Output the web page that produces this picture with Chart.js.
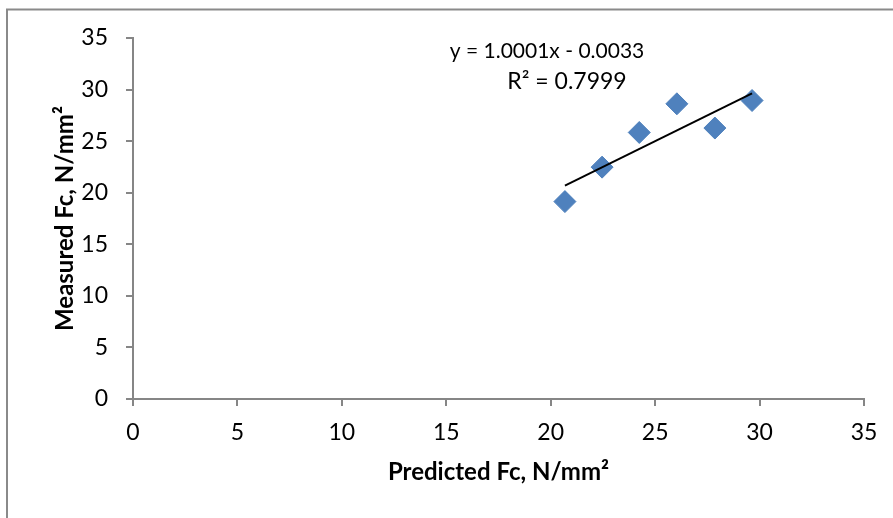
<!DOCTYPE html>
<html>
<head>
<meta charset="utf-8">
<script src="https://cdn.jsdelivr.net/npm/chart.js@4/dist/chart.umd.min.js"></script>
<style>
  html, body { margin: 0; padding: 0; background: #ffffff; }
  #wrap { width: 893px; height: 518px; }
</style>
</head>
<body>
<div id="wrap"><canvas id="c" width="893" height="518"></canvas></div>
<script>
// ---- data ----
const predictedFc = [20.68, 22.46, 24.24, 26.04, 27.86, 29.64];
const measuredFc  = [19.14, 22.48, 25.84, 28.62, 26.27, 28.94];
const trendSlope = [1.0001];
const trendIntercept = [-0.0033];
const trendLabels = ["y = 1.0001x - 0.0033", "R\u00B2 = 0.7999"];
const xTitle = "Predicted Fc, N/mm\u00B2";
const yTitle = "Measured Fc, N/mm\u00B2";
const axisMin = [0];
const axisMax = [35];
const axisStep = [5];

const FONT = "Lato, 'Open Sans', sans-serif";
const AXIS_GREY = '#868686';

const points = predictedFc.map((x, i) => ({ x: x, y: measuredFc[i] }));
const xLo = Math.min(...predictedFc), xHi = Math.max(...predictedFc);
const trend = [
  { x: xLo, y: trendSlope[0] * xLo + trendIntercept[0] },
  { x: xHi, y: trendSlope[0] * xHi + trendIntercept[0] }
];

const frame = {
  id: 'frame',
  beforeDraw(chart) {
    const ctx = chart.ctx;
    ctx.save();
    ctx.fillStyle = '#ffffff';
    ctx.fillRect(0, 0, chart.width, chart.height);
    ctx.strokeStyle = '#8a8a8a';
    ctx.lineWidth = 2;
    ctx.strokeRect(7, 9.5, 1000, 1000);
    ctx.restore();
  },
  afterDraw(chart) {
    const ctx = chart.ctx;
    ctx.save();
    ctx.fillStyle = '#000000';
    ctx.textAlign = 'center';
    ctx.textBaseline = 'middle';
    ctx.font = "21px " + FONT;
    ctx.fillText(trendLabels[0], 547, 51);
    ctx.font = "23px " + FONT;
    ctx.fillText(trendLabels[1], 567, 82);
    ctx.restore();
  }
};

new Chart(document.getElementById('c'), {
  type: 'scatter',
  data: {
    datasets: [
      {
        type: 'line',
        label: 'Linear trend',
        data: trend,
        borderColor: '#000000',
        borderWidth: 2,
        pointRadius: 0,
        fill: false,
        order: 0
      },
      {
        label: 'Measured vs predicted',
        data: points,
        pointStyle: 'rectRot',
        pointRadius: 11,
        pointHoverRadius: 11,
        backgroundColor: '#4F81BD',
        borderColor: '#4F81BD',
        borderWidth: 1,
        order: 1
      }
    ]
  },
  options: {
    responsive: false,
    animation: false,
    devicePixelRatio: 1,
    layout: { padding: { left: 0, right: 29, top: 38, bottom: 0 } },
    plugins: {
      legend: { display: false },
      tooltip: { enabled: false }
    },
    scales: {
      x: {
        type: 'linear',
        min: axisMin[0], max: axisMax[0],
        ticks: {
          stepSize: axisStep[0],
          color: '#000000',
          padding: 13,
          maxRotation: 0,
          font: { family: FONT, size: 23 }
        },
        grid: { drawOnChartArea: false, drawTicks: true, tickLength: 7, color: AXIS_GREY, lineWidth: 2 },
        border: { display: true, color: AXIS_GREY, width: 2 },
        title: {
          display: true, text: xTitle, color: '#000000',
          font: { family: FONT, size: 24, weight: 'bold' },
          padding: { top: 0, bottom: 31 }
        },
        afterFit(s) { s.height = 119; }
      },
      y: {
        type: 'linear',
        min: axisMin[0], max: axisMax[0],
        ticks: {
          stepSize: axisStep[0],
          color: '#000000',
          padding: 18,
          font: { family: FONT, size: 23 }
        },
        grid: { drawOnChartArea: false, drawTicks: true, tickLength: 7, color: AXIS_GREY, lineWidth: 2 },
        border: { display: true, color: AXIS_GREY, width: 2 },
        title: {
          display: true, text: yTitle, color: '#000000',
          font: { family: FONT, size: 24, weight: 'bold' },
          padding: { top: 51, bottom: 0 }
        },
        afterFit(s) { s.width = 133; }
      }
    }
  },
  plugins: [frame]
});
</script>
</body>
</html>
